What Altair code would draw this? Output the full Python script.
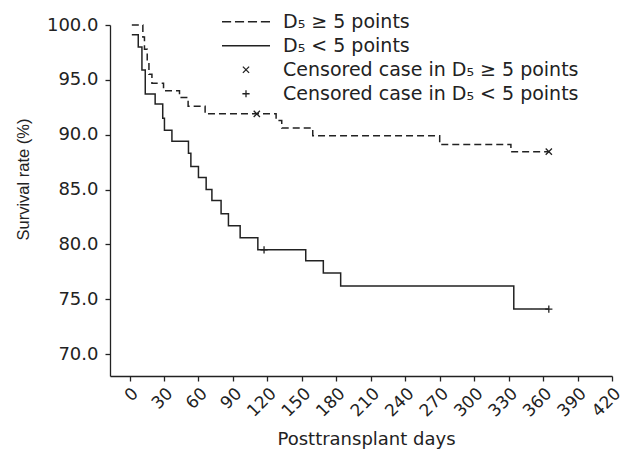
import altair as alt
import pandas as pd

# --- data ---
hi_days = [2, 11.6, 13.0, 15.4, 16.9, 19.5, 29.6, 43.5, 51.0, 65.8, 127.6, 132.5, 159.5, 270.0, 332.0, 365.0]
hi_surv = [100.0, 98.9, 97.8, 96.6, 95.5, 94.7, 94.0, 93.4, 92.6, 91.9, 91.3, 90.6, 89.9, 89.1, 88.45, 88.45]
lo_days = [2, 7.6, 10.8, 13.7, 22.3, 28.9, 30.4, 36.9, 51.3, 53.4, 60.0, 66.7, 71.7, 79.7, 86.1,
           96.3, 111.7, 153.4, 168.7, 183.8, 334.5, 365.0]
lo_surv = [99.1, 98.0, 95.9, 93.7, 92.8, 91.5, 90.4, 89.4, 88.3, 87.1, 86.1, 85.0, 84.0, 82.8, 81.7,
           80.6, 79.5, 78.5, 77.4, 76.2, 74.1, 74.1]
cens_hi_days = [110.8, 365.0]
cens_hi_surv = [91.9, 88.45]
cens_lo_days = [117.1, 365.0]
cens_lo_surv = [79.5, 74.1]
legend_labels = [
    "D\u2085 \u2265 5 points",
    "D\u2085 < 5 points",
    "Censored case in D\u2085 \u2265 5 points",
    "Censored case in D\u2085 < 5 points",
]
x_ticks = [0, 30, 60, 90, 120, 150, 180, 210, 240, 270, 300, 330, 360, 390, 420]
y_ticks = [70, 75, 80, 85, 90, 95, 100]

# --- tables ---
curves = pd.DataFrame({
    "day": hi_days + lo_days,
    "surv": hi_surv + lo_surv,
    "curve": [legend_labels[0]] * len(hi_days) + [legend_labels[1]] * len(lo_days),
})
cens = pd.DataFrame({
    "day": cens_hi_days + cens_lo_days,
    "surv": cens_hi_surv + cens_lo_surv,
    "kind": [legend_labels[2]] * len(cens_hi_days) + [legend_labels[3]] * len(cens_lo_days),
})

# --- styles ---
INK = "#222222"
shape_paths = [
    "M-1,0H-0.62M-0.46,0H-0.08M0.08,0H0.46M0.62,0H1",   # dashed line sample
    "M-1,0H1",                                           # solid line sample
    "M-0.13,-0.13L0.13,0.13M-0.13,0.13L0.13,-0.13",      # x marker
    "M-0.15,0H0.15M0,-0.15V0.15",                        # + marker
]

x_scale = alt.Scale(domain=[-17, 420], nice=False, zero=False)
y_scale = alt.Scale(domain=[68, 100], nice=False, zero=False)

x_axis = alt.Axis(
    values=x_ticks, title="Posttransplant days", labelAngle=-45,
    labelFont="DejaVu Sans", labelFontSize=17, labelPadding=4,
    titleFont="DejaVu Sans", titleFontSize=18, titleFontWeight="normal",
    titleX=256, titleAlign="center", titleY=54, titleBaseline="top")
y_axis = alt.Axis(
    values=y_ticks, format=".1f", title="Survival rate (%)",
    labelFont="DejaVu Sans", labelFontSize=18, labelPadding=7,
    titleFont="Liberation Sans", titleFontSize=16.5, titleFontWeight="normal",
    titleX=-79, titleY=154, titleAlign="center", titleBaseline="bottom")

lines = alt.Chart(curves).mark_line(interpolate="step-after", color=INK, strokeWidth=1.5).encode(
    x=alt.X("day:Q", scale=x_scale, axis=x_axis),
    y=alt.Y("surv:Q", scale=y_scale, axis=y_axis),
    strokeDash=alt.StrokeDash("curve:N", scale=alt.Scale(domain=legend_labels[:2], range=[[7, 4], [1, 0]]),
                              legend=None),
    detail="curve:N",
)

points = alt.Chart(cens).mark_point(filled=False, color=INK, size=2304, strokeWidth=1.3, opacity=1).encode(
    x=alt.X("day:Q", scale=x_scale, axis=x_axis),
    y=alt.Y("surv:Q", scale=y_scale, axis=y_axis),
    shape=alt.Shape("kind:N", scale=alt.Scale(domain=legend_labels, range=shape_paths),
                    legend=alt.Legend(title=None, orient="none", legendX=111, legendY=-15,
                                      symbolSize=2304, clipHeight=23.5, rowPadding=0,
                                      labelFont="DejaVu Sans", labelFontSize=19, labelColor=INK,
                                      labelOffset=12, labelLimit=0,
                                      symbolStrokeWidth=1.3, symbolStrokeColor=INK,
                                      symbolFillColor="transparent")),
)

chart = alt.layer(lines, points).properties(
    width=502, height=351,
    padding={"left": 102, "top": 17, "right": 12, "bottom": 75},
    autosize=alt.AutoSizeParams(type="none"),
    background="white",
).configure_view(stroke=None).configure_axis(
    grid=False, domainColor=INK, tickColor=INK, labelColor=INK, titleColor=INK,
    domainWidth=1.3, tickWidth=1.3, tickSize=5, labelOverlap=False, labelBound=False,
).configure_axisX(labelOverlap=False)

chart.save("out.html", embed_options={"renderer": "svg", "actions": False})
